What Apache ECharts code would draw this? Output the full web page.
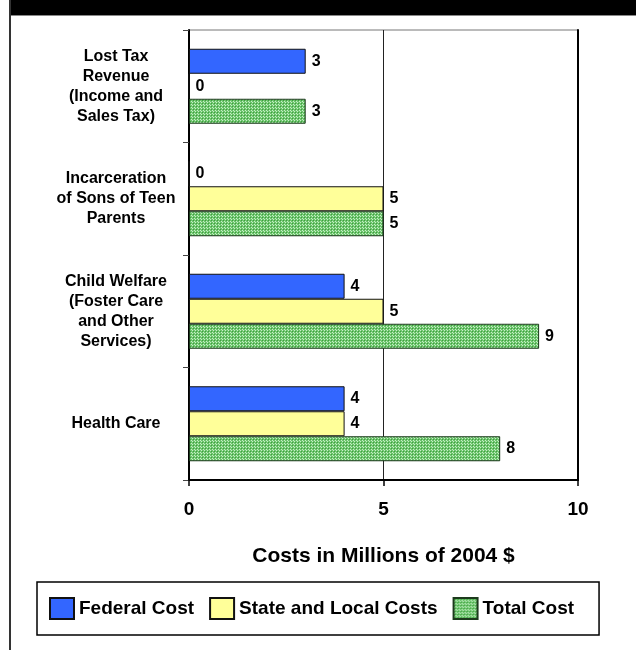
<!DOCTYPE html>
<html>
<head>
<meta charset="utf-8">
<script src="https://cdn.jsdelivr.net/npm/echarts@6/dist/echarts.min.js"></script>
<style>
  html, body { margin: 0; padding: 0; background: #fff; }
  #chart { width: 636px; height: 650px; }
</style>
</head>
<body>
<div id="chart"></div>
<script>
// ---- data ----
const categories = [
  'Lost Tax\nRevenue\n(Income and\nSales Tax)',
  'Incarceration\nof Sons of Teen\nParents',
  'Child Welfare\n(Foster Care\nand Other\nServices)',
  'Health Care'
];
const seriesNames = ['Federal Cost', 'State and Local Costs', 'Total Cost'];
const federalCost = [3, 0, 4, 4];
const stateLocalCost = [0, 5, 5, 4];
const totalCost = [3, 5, 9, 8];
const xTicks = [0, 5, 10];
const axisTitle = 'Costs in Millions of 2004 $';

// ---- green checkered pattern ----
function makePattern() {
  const c = document.createElement('canvas');
  c.width = 3; c.height = 3;
  const ctx = c.getContext('2d');
  ctx.fillStyle = '#6cc46c';
  ctx.fillRect(0, 0, 3, 3);
  ctx.fillStyle = '#c6eec6';
  ctx.fillRect(0, 0, 1, 1);
  ctx.fillRect(2, 2, 1, 1);
  ctx.fillStyle = '#3f9f3f';
  ctx.fillRect(1, 1, 1, 1);
  return c;
}
const greenPattern = { image: makePattern(), repeat: 'repeat' };

const FONT = '"Liberation Sans", Arial, sans-serif';
const chart = echarts.init(document.getElementById('chart'), null, { renderer: 'canvas' });

const labelStyle = {
  show: true, position: 'right', distance: 6,
  fontFamily: FONT, fontSize: 16, fontWeight: 'bold', color: '#000'
};

chart.setOption({
  animation: false,
  backgroundColor: '#fff',
  graphic: [
    { type: 'rect', shape: { x: 9, y: 0, width: 627, height: 15 }, style: { fill: '#000' }, silent: true },
    { type: 'rect', shape: { x: 9, y: 15, width: 627, height: 1 }, style: { fill: '#888' }, silent: true },
    { type: 'rect', shape: { x: 9, y: 0, width: 2, height: 650 }, style: { fill: '#333' }, silent: true }
  ],
  grid: { left: 189, right: 58, top: 30, bottom: 170, show: true, borderColor: '#777', borderWidth: 1 },
  legend: {
    left: 37, top: 582,
    orient: 'horizontal',
    padding: [15, 25, 15, 12],
    itemWidth: 24, itemHeight: 21, itemGap: 15,
    borderColor: '#000', borderWidth: 1.5,
    icon: 'rect',
    data: seriesNames,
    textStyle: { fontFamily: FONT, fontSize: 19, fontWeight: 'bold', color: '#000' }
  },
  xAxis: {
    type: 'value', min: xTicks[0], max: xTicks[xTicks.length - 1], interval: xTicks[1] - xTicks[0],
    name: axisTitle, nameLocation: 'middle', nameGap: 66,
    nameTextStyle: { fontFamily: FONT, fontSize: 21, fontWeight: 'bold', color: '#000' },
    axisLine: { show: true, lineStyle: { color: '#000', width: 2 } },
    axisTick: { show: true, length: 6, lineStyle: { color: '#000', width: 1.5 } },
    splitLine: { show: true, lineStyle: { color: '#222', width: 1 } },
    axisLabel: { fontFamily: FONT, fontSize: 19, fontWeight: 'bold', color: '#000', margin: 20 }
  },
  yAxis: [{
    type: 'category', inverse: true, data: categories,
    axisLine: { show: true, lineStyle: { color: '#000', width: 2 } },
    axisTick: { show: true, length: 6, lineStyle: { color: '#444', width: 1 } },
    axisLabel: {
      fontFamily: FONT, fontSize: 16, fontWeight: 'bold', color: '#000',
      align: 'center', margin: 73, lineHeight: 20
    }
  }, {
    type: 'category', inverse: true, data: categories, position: 'right',
    axisLine: { show: true, lineStyle: { color: '#000', width: 2 } },
    axisTick: { show: false }, axisLabel: { show: false }, splitLine: { show: false }
  }],
  series: [
    {
      name: seriesNames[0], type: 'bar', data: federalCost, barWidth: 25, barGap: '0%',
      itemStyle: { color: '#3366ff', borderColor: '#111', borderWidth: 1 },
      label: labelStyle
    },
    {
      name: seriesNames[1], type: 'bar', data: stateLocalCost, barWidth: 25, barGap: '0%',
      itemStyle: { color: '#ffff99', borderColor: '#111', borderWidth: 1 },
      label: labelStyle
    },
    {
      name: seriesNames[2], type: 'bar', data: totalCost, barWidth: 25, barGap: '0%',
      itemStyle: { color: greenPattern, borderColor: '#1c3a1c', borderWidth: 1 },
      label: labelStyle
    }
  ]
});
</script>
</body>
</html>
